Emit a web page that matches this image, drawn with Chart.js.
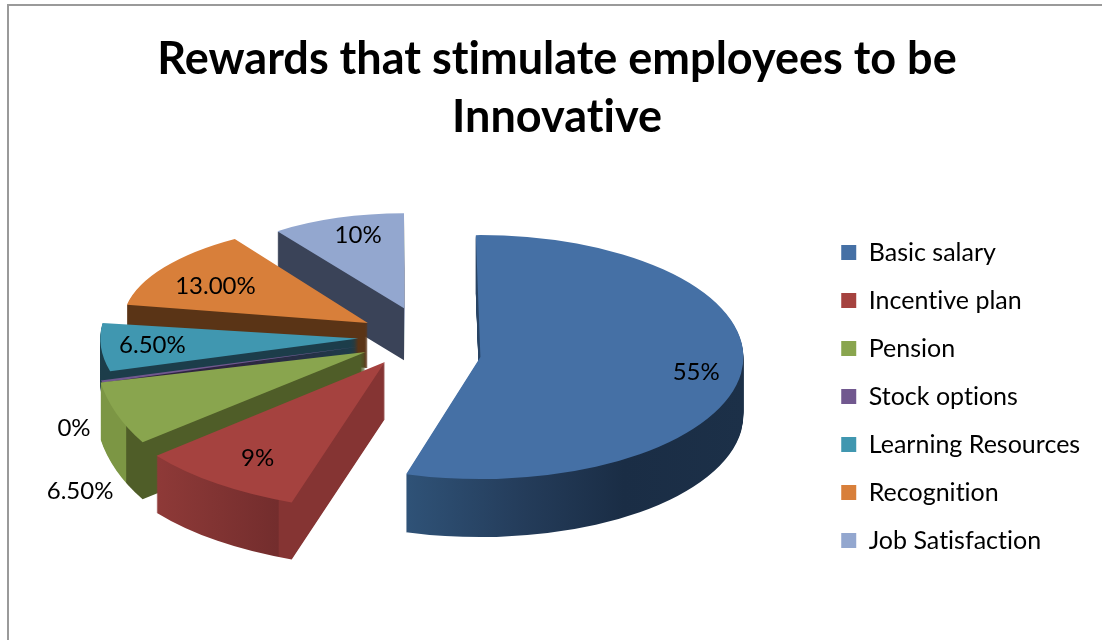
<!DOCTYPE html>
<html>
<head>
<meta charset="utf-8">
<title>Rewards that stimulate employees to be Innovative</title>
<script src="https://cdn.jsdelivr.net/npm/chart.js@4/dist/chart.umd.min.js"></script>
<style>
  html, body { margin: 0; background: #fff; }
  canvas { display: block; }
</style>
</head>
<body>
<canvas id="pie" width="1102" height="640"></canvas>
<script>
const chartTitle = ["Rewards that stimulate employees to be", "Innovative"];
const categories = ["Basic salary", "Incentive plan", "Pension", "Stock options", "Learning Resources", "Recognition", "Job Satisfaction"];
// stock options reads 0% but still shows as a sliver
const shares = [55, 9, 6.5, 0.3, 6.5, 13, 10];
const shareLabels = ["55%", "9%", "6.50%", "0%", "6.50%", "13.00%", "10%"];

const faceColors = ["#4570a5", "#a5423f", "#89a54e", "#71588f", "#4097b0", "#d87f3a", "#93a7cf"];

// Fake 3D look, one entry per slice
const explode = 62, tilt = 0.54;
const pieShiftX = 2, pieShiftY = -31;
const drawOrder = [6, 5, 4, 3, 2, 1, 0];          // back to front
const sliceRx = [263, 295, 270, 269, 258, 245, 216];
const sliceRy = [122, 148, 160, 124, 120, 100, 95];
const sliceTurn = [-1, 1, 6, 0, 0, 3, 0];
const nudgeX = [-4, -4, -3, -4, -3, -2, 0];
const nudgeY = [12, -6, -4, -3, -4, 0, 0];
const sliceDepth = [58, 57, 57, 45, 45, 45, 52];
const wallStops = [
  [[403, "#2f5277"], [520, "#243c5a"], [620, "#1a2d45"], [743, "#1c3048"]],
  [[157, "#8f3a38"], [283, "#732d2d"], [284, "#853433"], [385, "#853433"]],
  [[103, "#7c9644"], [140, "#7c9644"], [141, "#4f5d28"], [365, "#4f5d28"]],
  [[100, "#2f2440"], [360, "#2f2440"]],
  [[100, "#1c3d4a"], [360, "#1c3d4a"]],
  [[127, "#5a3416"], [368, "#5a3416"]],
  [[277, "#3a4358"], [404, "#3a4358"]]
];
// label placement: fraction of the radius, then a lift in px
const labelFrac = [0.83, 0.78, 1.205, 1.107, 0.8, 0.724, 0.69];
const labelLift = [0, 0, 47, 43, 0, 0, -11];

function sliceTip(arc, i) {
  const mid = (arc.startAngle + arc.endAngle) / 2;
  return {
    x: arc.x + pieShiftX + explode * Math.cos(mid) + nudgeX[i],
    y: arc.y + pieShiftY + explode * tilt * Math.sin(mid) + nudgeY[i],
    mid
  };
}

const pie3d = {
  id: "pie3d",
  beforeDraw(chart) {
    const ctx = chart.ctx;
    // a tiny letter spacing keeps Lato from joining "ti" into a ligature
    ctx.letterSpacing = "0.01px";
    // frame of the chart object
    ctx.save();
    ctx.strokeStyle = "#9a9a9a";
    ctx.lineWidth = 2;
    ctx.beginPath();
    ctx.moveTo(8, 640);
    ctx.lineTo(8, 5);
    ctx.lineTo(1102, 5);
    ctx.stroke();
    ctx.restore();
  },
  beforeDatasetDraw(chart) {
    const ctx = chart.ctx;
    const arcs = chart.getDatasetMeta(0).data;
    drawOrder.forEach(i => {
      const arc = arcs[i];
      const tip = sliceTip(arc, i);
      const sx = sliceRx[i] / arc.outerRadius;
      const sy = sliceRy[i] / arc.outerRadius;
      const place = dy => {
        ctx.translate(tip.x, tip.y + dy);
        ctx.scale(sx, sy);
        ctx.rotate(sliceTurn[i] * Math.PI / 180);
        ctx.translate(-arc.x, -arc.y);
      };
      const stops = wallStops[i];
      const x0 = stops[0][0], x1 = stops[stops.length - 1][0];
      const grad = ctx.createLinearGradient(
        arc.x + (x0 - tip.x) / sx, 0, arc.x + (x1 - tip.x) / sx, 0);
      stops.forEach(s => grad.addColorStop((s[0] - x0) / (x1 - x0), s[1]));

      const faceOptions = arc.options;
      arc.options = { ...faceOptions, backgroundColor: grad };
      for (let d = sliceDepth[i]; d > 0; d--) {
        ctx.save();
        place(d);
        arc.draw(ctx);
        ctx.restore();
      }
      arc.options = faceOptions;
      ctx.save();
      place(0);
      arc.draw(ctx);
      ctx.restore();
    });
    return false;
  },
  afterDatasetsDraw(chart) {
    const ctx = chart.ctx;
    const arcs = chart.getDatasetMeta(0).data;
    ctx.save();
    ctx.font = "24px Lato";
    ctx.fillStyle = "#000";
    ctx.textAlign = "center";
    ctx.textBaseline = "middle";
    arcs.forEach((arc, i) => {
      const tip = sliceTip(arc, i);
      ctx.fillText(
        shareLabels[i],
        tip.x + sliceRx[i] * labelFrac[i] * Math.cos(tip.mid),
        tip.y + sliceRy[i] * labelFrac[i] * Math.sin(tip.mid) + labelLift[i]
      );
    });
    ctx.restore();
  }
};

new Chart(document.getElementById("pie"), {
  type: "pie",
  data: {
    labels: categories,
    datasets: [{
      data: shares,
      backgroundColor: faceColors,
      borderWidth: 0
    }]
  },
  options: {
    responsive: false,
    animation: false,
    radius: 260,
    layout: { padding: { left: 24, right: 12, top: 30, bottom: 64 } },
    plugins: {
      tooltip: { enabled: false },
      title: {
        display: true,
        text: chartTitle,
        color: "#000",
        font: { family: "Lato", size: 45, weight: "bold", lineHeight: 1.29 },
        padding: { top: 0, bottom: 20 }
      },
      legend: {
        position: "right",
        align: "end",
        labels: {
          color: "#000",
          font: { family: "Lato", size: 25 },
          boxWidth: 15,
          boxHeight: 15,
          padding: 23
        }
      }
    }
  },
  plugins: [pie3d]
});
</script>
</body>
</html>
